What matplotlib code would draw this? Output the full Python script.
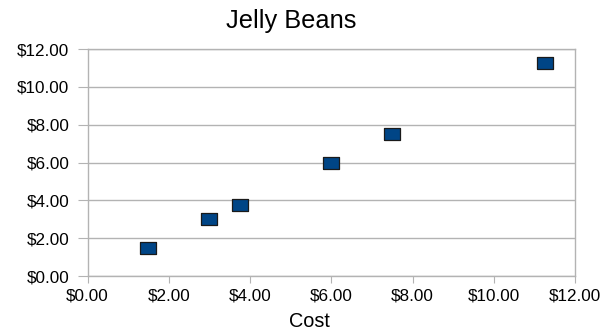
import matplotlib
matplotlib.use("Agg")
import matplotlib.pyplot as plt
from matplotlib.ticker import FuncFormatter, MultipleLocator

plt.rcParams['font.family'] = ['Liberation Sans', 'DejaVu Sans']

# Jelly bean quantities: cost vs. price
cost = [1.50, 3.00, 3.75, 6.00, 7.50, 11.25]
price = [1.50, 3.00, 3.75, 6.00, 7.50, 11.25]

title = "Jelly Beans"
xlabel = "Cost"

fig = plt.figure(figsize=(6.0, 3.31), dpi=100)
ax = fig.add_axes([87.5 / 600, 1 - 276 / 331, (575 - 87.5) / 600, (276 - 49) / 331])

# slightly wide rectangular marker
rect = [(-1, -0.7), (1, -0.7), (1, 0.7), (-1, 0.7), (-1, -0.7)]
ax.scatter(cost, price, marker=rect, s=130, facecolor='#004586',
           edgecolor='#1a1a1a', linewidth=0.9, zorder=3)

ax.set_xlim(0, 12)
ax.set_ylim(0, 12)
ax.xaxis.set_major_locator(MultipleLocator(2))
ax.yaxis.set_major_locator(MultipleLocator(2))
fmt = FuncFormatter(lambda v, p: f"${v:.2f}")
ax.xaxis.set_major_formatter(fmt)
ax.yaxis.set_major_formatter(fmt)

grey = '#b3b3b3'
ax.grid(axis='y', color=grey, linewidth=1.0)
ax.set_axisbelow(True)
for s in ax.spines.values():
    s.set_color(grey)
    s.set_linewidth(1.0)
ax.tick_params(axis='x', direction='out', length=5, color=grey, labelsize=12.3, pad=4)
ax.tick_params(axis='y', direction='out', length=7.2, color=grey, labelsize=12.3, pad=6)

fig.text(291 / 600, 1 - 28 / 331, title, ha='center', va='baseline', fontsize=18.3)
fig.text(309 / 600, 1 - 327 / 331, xlabel, ha='center', va='baseline', fontsize=14.3)

fig.savefig("out.png", dpi=100, facecolor='white')
